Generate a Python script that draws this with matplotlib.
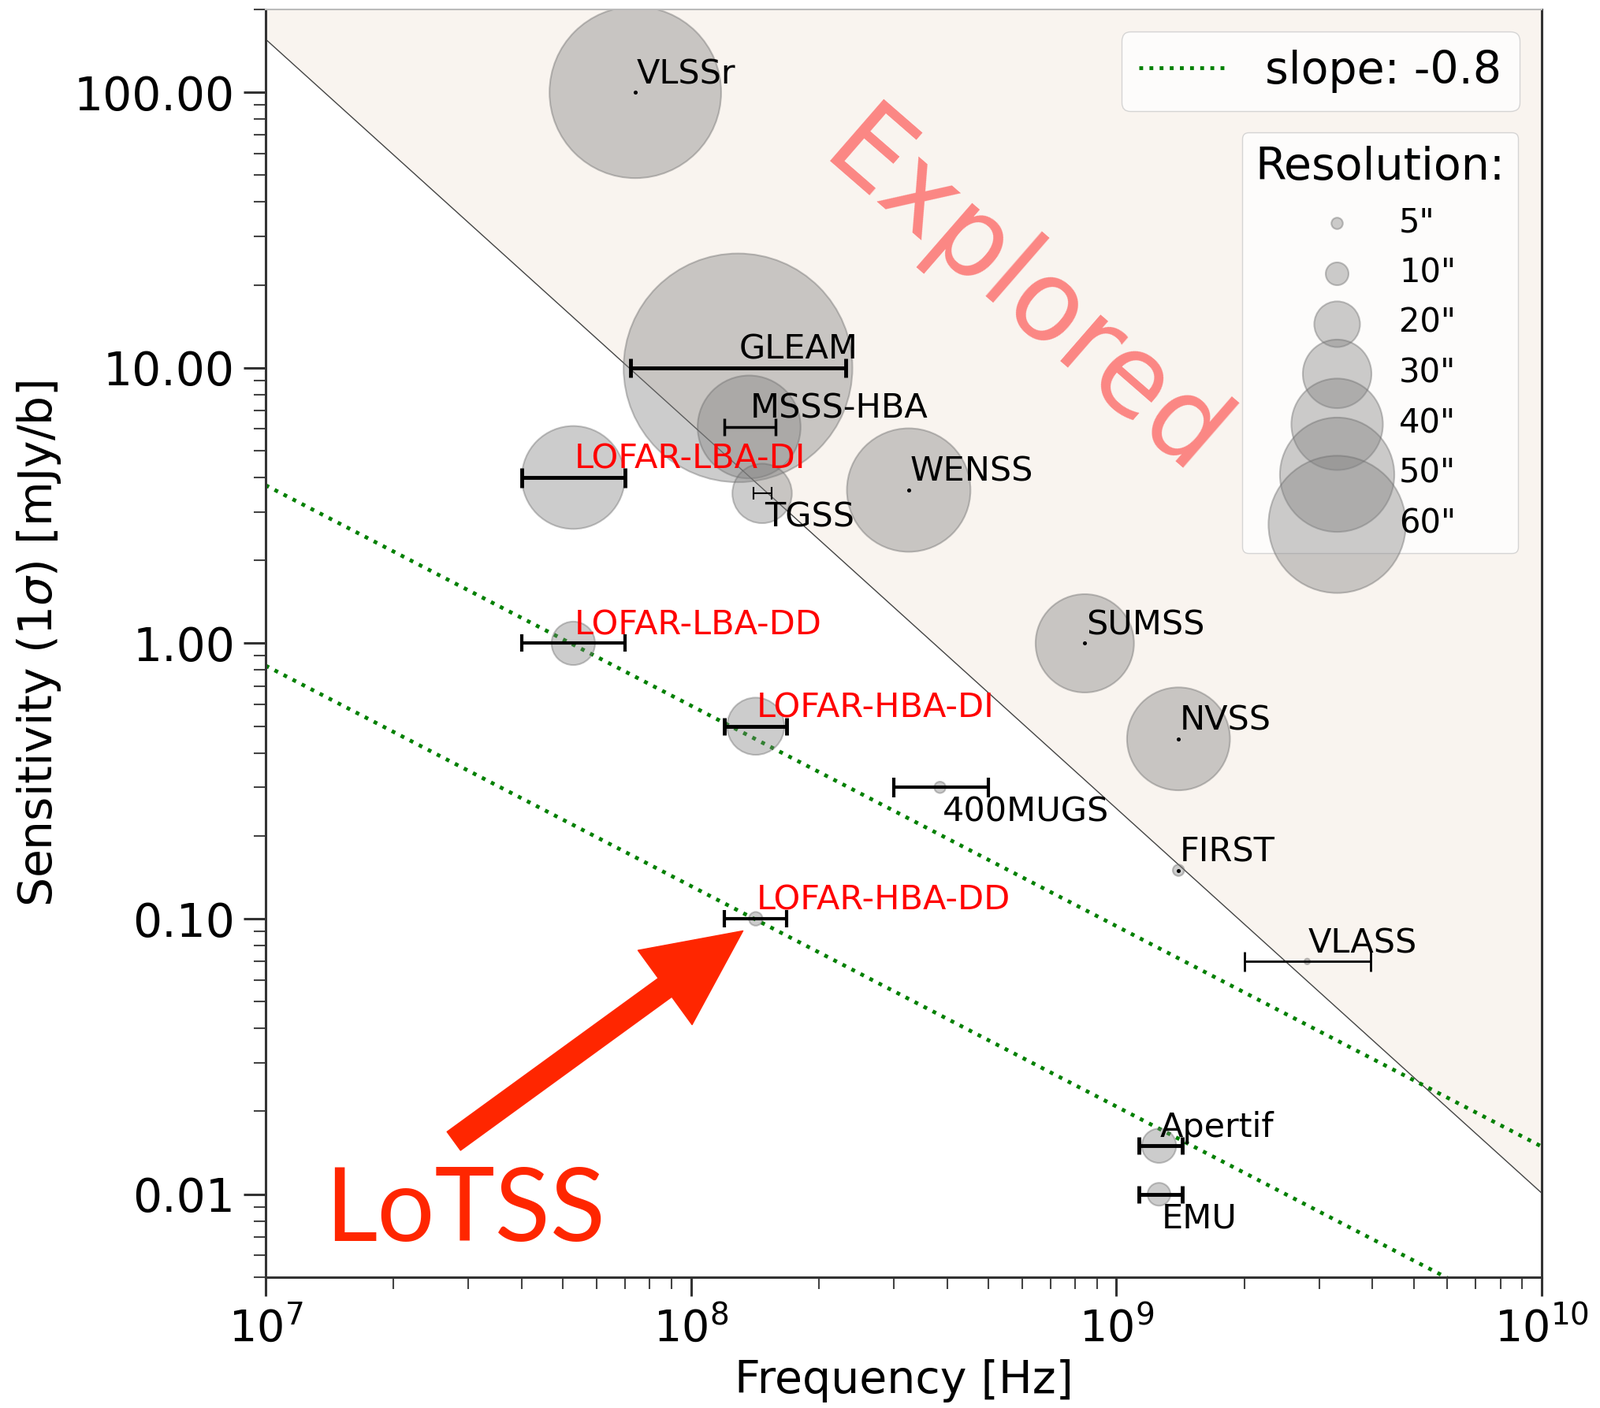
import matplotlib
matplotlib.use("Agg")
import matplotlib.pyplot as plt
from matplotlib.ticker import FormatStrFormatter, LogLocator, NullFormatter
from matplotlib.patches import FancyArrowPatch
import numpy as np

# ---------------- data ----------------
names = ["VLSSr", "GLEAM", "MSSS-HBA", "LOFAR-LBA-DI", "TGSS", "WENSS",
         "LOFAR-LBA-DD", "SUMSS", "LOFAR-HBA-DI", "NVSS", "400MUGS", "FIRST",
         "LOFAR-HBA-DD", "VLASS", "Apertif", "EMU"]
freq = [7.4e7, 1.29e8, 1.37e8, 5.29e7, 1.47e8, 3.25e8,
        5.29e7, 8.43e8, 1.42e8, 1.4e9, 3.85e8, 1.4e9,
        1.42e8, 2.81e9, 1.26e9, 1.26e9]
freq_lo = [7.4e7, 7.2e7, 1.2e8, 4.0e7, 1.40e8, 3.25e8,
           4.0e7, 8.43e8, 1.2e8, 1.4e9, 3.0e8, 1.4e9,
           1.2e8, 2.0e9, 1.13e9, 1.13e9]
freq_hi = [7.4e7, 2.31e8, 1.58e8, 7.0e7, 1.55e8, 3.25e8,
           7.0e7, 8.43e8, 1.68e8, 1.4e9, 5.0e8, 1.4e9,
           1.68e8, 3.96e9, 1.43e9, 1.43e9]
sens = [100.0, 10.0, 6.1, 4.0, 3.5, 3.6,
        1.0, 1.0, 0.5, 0.45, 0.3, 0.15,
        0.1, 0.07, 0.015, 0.01]
resolution = [75, 100, 45, 45, 26, 54,
              19, 43, 25, 45, 5, 5,
              6, 2.5, 15, 10]

lofar = ["LOFAR-LBA-DI", "LOFAR-LBA-DD", "LOFAR-HBA-DI", "LOFAR-HBA-DD"]
labels_below = ["TGSS", "400MUGS", "EMU"]

legend_res = [5, 10, 20, 30, 40, 50, 60]
legend_res_labels = ['5"', '10"', '20"', '30"', '40"', '50"', '60"']

bound_x = [1e7, 1e10]
bound_y = [156.0, 0.0101]
slope_x = [1e7, 1e10]
slope_y1 = [3.75, 0.0149]
slope_y2 = [0.83, 0.0033]

y_ticks = [0.01, 0.1, 1.0, 10.0, 100.0]

arrow_tail = (2.77e7, 0.0156)
arrow_head = (1.325e8, 0.0904)

# ---------------- styles ----------------
err_lw = [1, 3.5, 2.5, 3.5, 1.5, 1, 3.0, 1, 3.5, 1, 3.0, 1, 3.0, 2.0, 3.5, 3.5]
err_cap = [0, 8.5, 8, 9, 6, 0, 8, 0, 8, 0, 9, 0, 8, 9, 8, 8]
SIZE_K = 4.37

fig = plt.figure(figsize=(20.31, 17.87), dpi=100)
ax = fig.add_axes([0.1659, 0.0929, 0.9631 - 0.1659, 0.9933 - 0.0929])
ax.set_xscale("log")
ax.set_yscale("log")
ax.set_xlim(1e7, 1e10)
ax.set_ylim(0.005, 200)

# explored region
ax.fill_between(bound_x, bound_y, 1e5, color="#f9f4ef", zorder=0, lw=0)
ax.plot(bound_x, bound_y, color="#444444", lw=1.0, zorder=1)

# slope lines
slope_line, = ax.plot(slope_x, slope_y1, ":", color="green", lw=3.5, zorder=1.5)
ax.plot(slope_x, slope_y2, ":", color="green", lw=3.5, zorder=1.5)

# resolution circles
ax.scatter(freq, sens, s=SIZE_K * np.asarray(resolution) ** 2,
           facecolor="gray", edgecolor="dimgray", alpha=0.4, lw=1.5, zorder=2)

# error bars / points
for i, n in enumerate(names):
    f, s = freq[i], sens[i]
    if freq_hi[i] > freq_lo[i]:
        ax.errorbar([f], [s], xerr=[[f - freq_lo[i]], [freq_hi[i] - f]], fmt="none",
                    ecolor="black", elinewidth=err_lw[i], capsize=err_cap[i],
                    capthick=err_lw[i], zorder=3)
    else:
        ax.plot([f], [s], "o", color="black", ms=2.6, zorder=3)
    col = "red" if n in lofar else "black"
    if n in labels_below:
        ax.annotate(n, (f, s), xytext=(2, -7), textcoords="offset points",
                    ha="left", va="top", fontsize=31, color=col, zorder=4)
    else:
        ax.annotate(n, (f, s), xytext=(1, 8), textcoords="offset points",
                    ha="left", va="baseline", fontsize=31, color=col, zorder=4)

# Explored text
ax.text(6.05e8, 18.0, "Explored", rotation=-41, rotation_mode="anchor",
        ha="center", va="center", fontsize=102, color="red", alpha=0.45, zorder=1)

# LoTSS annotation
ax.text(1.377e7, 0.00679, "LoTSS", fontsize=93, color="#ff2600",
        family=["Lato", "DejaVu Sans"], ha="left", va="baseline", zorder=6)
arr = FancyArrowPatch(posA=arrow_tail, posB=arrow_head,
                      arrowstyle="simple,head_length=88,head_width=84,tail_width=21",
                      mutation_scale=1, color="#ff2600", shrinkA=0, shrinkB=0,
                      zorder=6)
ax.add_patch(arr)

# axes styling
ax.yaxis.set_major_formatter(FormatStrFormatter("%.2f"))
ax.set_yticks(y_ticks)
ax.yaxis.set_minor_locator(LogLocator(base=10, subs=np.arange(2, 10), numticks=20))
ax.yaxis.set_minor_formatter(NullFormatter())
ax.xaxis.set_minor_locator(LogLocator(base=10, subs=np.arange(2, 10), numticks=20))
ax.xaxis.set_minor_formatter(NullFormatter())
ax.tick_params(axis="y", which="major", length=20, width=2.2, color="#333333",
               labelsize=42, pad=8)
ax.tick_params(axis="x", which="major", length=17, width=2.2, color="#333333",
               labelsize=40, pad=10)
ax.tick_params(axis="both", which="minor", length=11, width=1.5, color="#444444")
for side in ["left", "bottom", "right"]:
    ax.spines[side].set_color("#333333")
    ax.spines[side].set_linewidth(2.2)
ax.spines["top"].set_color("#bbbbbb")
ax.spines["top"].set_linewidth(1.5)

ax.set_xlabel("Frequency [Hz]", fontsize=41, labelpad=8)
ax.set_ylabel(r"Sensitivity (1$\sigma$) [mJy/b]", fontsize=42, labelpad=10)

# legends
leg1 = ax.legend(handles=[slope_line], labels=["slope: -0.8"], loc="upper right",
                 fontsize=41)
ax.add_artist(leg1)
res_handles = [ax.scatter([], [], s=SIZE_K * r ** 2, facecolor="gray",
                          edgecolor="dimgray", alpha=0.4, lw=1.5)
               for r in legend_res]
leg2 = ax.legend(handles=res_handles, labels=legend_res_labels, title="Resolution:",
                 loc="upper right", bbox_to_anchor=(0.9815, 0.903), borderaxespad=0,
                 fontsize=30, title_fontsize=41, labelspacing=0.52, handlelength=2.0,
                 handletextpad=0.9, scatterpoints=1)

fig.savefig("out.png", dpi=100)
